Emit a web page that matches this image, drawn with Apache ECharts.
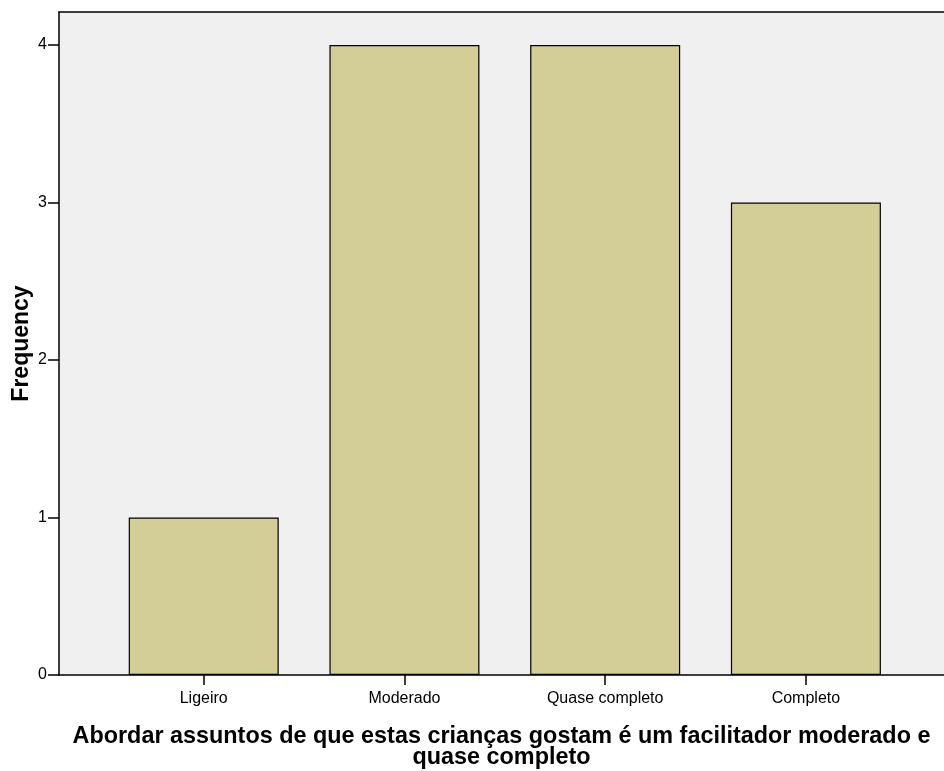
<!DOCTYPE html>
<html>
<head>
<meta charset="utf-8">
<script src="https://cdn.jsdelivr.net/npm/echarts@6/dist/echarts.min.js"></script>
<style>html,body{margin:0;padding:0;background:#fff}#c{width:944px;height:771px}</style>
</head>
<body>
<div id="c"></div>
<script>
const categories = ['Ligeiro', 'Moderado', 'Quase completo', 'Completo'];
const frequencies = [1, 4, 4, 3];
const yTicks = [0, 1, 2, 3, 4];
const xTitle = 'Abordar assuntos de que estas crianças gostam é um facilitador moderado e\nquase completo';
const yTitle = 'Frequency';

const positions = categories.map((_, i) => i);
const chart = echarts.init(document.getElementById('c'), null, {renderer: 'canvas'});
const font = 'Liberation Sans, Arial, sans-serif';
chart.setOption({
  animation: false,
  grid: {left: 59, right: 0, top: 12, bottom: 96, show: true, backgroundColor: '#f0f0f0', borderWidth: 0,
    containLabel: false, outerBoundsMode: 'none'},
  xAxis: [{
    type: 'value', min: -0.721, max: 3.688,
    splitLine: {show: false},
    axisLine: {show: true, onZero: false, lineStyle: {color: '#000', width: 1.5}},
    axisTick: {show: true, customValues: positions, length: 10, lineStyle: {color: '#000', width: 1.5}},
    axisLabel: {show: true, customValues: positions, margin: 16, color: '#000', fontSize: 16, fontFamily: font,
      formatter: v => categories[Math.round(v)]},
    name: xTitle, nameLocation: 'middle', nameGap: 51,
    nameTextStyle: {color: '#000', fontSize: 23.4, fontWeight: 'bold', fontFamily: font, lineHeight: 21}
  }, {
    type: 'value', position: 'top', min: -0.721, max: 3.688,
    splitLine: {show: false}, axisTick: {show: false}, axisLabel: {show: false},
    axisLine: {show: true, onZero: false, lineStyle: {color: '#000', width: 1.5}}
  }],
  yAxis: {
    type: 'value', min: 0, max: 4.21, interval: 1,
    splitLine: {show: false},
    axisLine: {show: true, onZero: false, lineStyle: {color: '#000', width: 1.5}},
    axisTick: {show: true, length: 11, customValues: yTicks, lineStyle: {color: '#000', width: 1.5}},
    axisLabel: {color: '#000', fontSize: 16, fontFamily: font, margin: 12,
      customValues: yTicks},
    name: yTitle, nameLocation: 'middle', nameGap: 26, nameRotate: 90, nameMoveOverlap: false,
    nameTextStyle: {color: '#000', fontSize: 23, fontWeight: 'bold', fontFamily: font}
  },
  series: [{
    type: 'bar', xAxisIndex: 0, barWidth: 150,
    data: positions.map((p, i) => [p, frequencies[i]]),
    itemStyle: {color: '#d3ce98', borderColor: '#000', borderWidth: 1.2}
  }]
});
</script>
</body>
</html>
